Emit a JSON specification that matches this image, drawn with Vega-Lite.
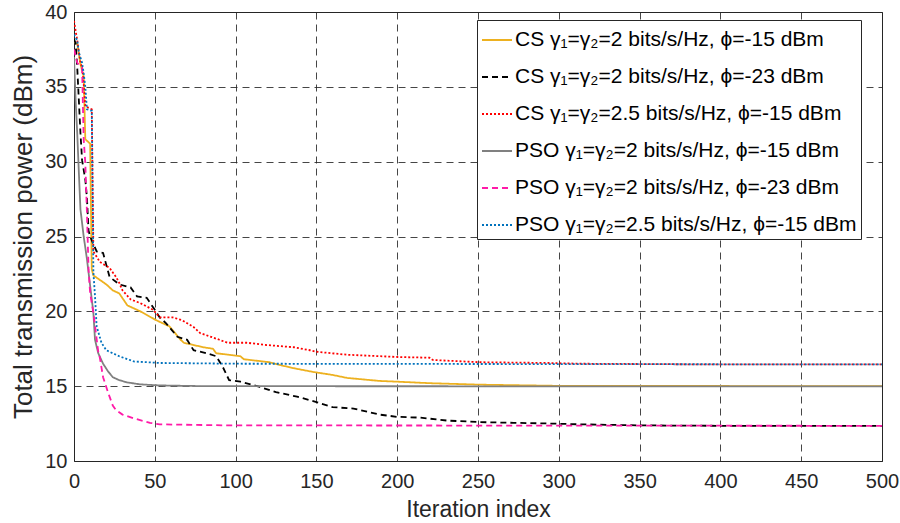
{
  "$schema": "https://vega.github.io/schema/vega-lite/v6.json",
  "width": 808,
  "height": 449,
  "autosize": {"type": "none"},
  "padding": {"left": 74, "top": 12, "right": 18, "bottom": 62},
  "background": "white",
  "config": {
    "font": "Liberation Sans",
    "view": {"stroke": "#262626", "strokeWidth": 1},
    "axis": {
      "labelFontSize": 20,
      "titleFontSize": 23,
      "titleFontWeight": "normal",
      "labelColor": "#262626",
      "titleColor": "#262626",
      "grid": true,
      "gridColor": "#262626",
      "gridDash": [7, 5],
      "gridOpacity": 0.85,
      "gridWidth": 1,
      "domain": false,
      "ticks": false,
      "labelFlush": false
    }
  },
  "datasets": {
    "pts": [
      {"s": "CS γ₁=γ₂=2 bits/s/Hz, ϕ=-15 dBm", "iter": 0, "val": 38.0},
      {"s": "CS γ₁=γ₂=2 bits/s/Hz, ϕ=-15 dBm", "iter": 2, "val": 37.9},
      {"s": "CS γ₁=γ₂=2 bits/s/Hz, ϕ=-15 dBm", "iter": 4, "val": 36.5},
      {"s": "CS γ₁=γ₂=2 bits/s/Hz, ϕ=-15 dBm", "iter": 6, "val": 35.7},
      {"s": "CS γ₁=γ₂=2 bits/s/Hz, ϕ=-15 dBm", "iter": 7, "val": 31.5},
      {"s": "CS γ₁=γ₂=2 bits/s/Hz, ϕ=-15 dBm", "iter": 10, "val": 31.2},
      {"s": "CS γ₁=γ₂=2 bits/s/Hz, ϕ=-15 dBm", "iter": 11, "val": 22.8},
      {"s": "CS γ₁=γ₂=2 bits/s/Hz, ϕ=-15 dBm", "iter": 12, "val": 22.4},
      {"s": "CS γ₁=γ₂=2 bits/s/Hz, ϕ=-15 dBm", "iter": 16, "val": 22.1},
      {"s": "CS γ₁=γ₂=2 bits/s/Hz, ϕ=-15 dBm", "iter": 20, "val": 21.8},
      {"s": "CS γ₁=γ₂=2 bits/s/Hz, ϕ=-15 dBm", "iter": 24, "val": 21.4},
      {"s": "CS γ₁=γ₂=2 bits/s/Hz, ϕ=-15 dBm", "iter": 28, "val": 21.2},
      {"s": "CS γ₁=γ₂=2 bits/s/Hz, ϕ=-15 dBm", "iter": 33, "val": 20.4},
      {"s": "CS γ₁=γ₂=2 bits/s/Hz, ϕ=-15 dBm", "iter": 41, "val": 20.0},
      {"s": "CS γ₁=γ₂=2 bits/s/Hz, ϕ=-15 dBm", "iter": 51, "val": 19.4},
      {"s": "CS γ₁=γ₂=2 bits/s/Hz, ϕ=-15 dBm", "iter": 59, "val": 19.0},
      {"s": "CS γ₁=γ₂=2 bits/s/Hz, ϕ=-15 dBm", "iter": 66, "val": 18.1},
      {"s": "CS γ₁=γ₂=2 bits/s/Hz, ϕ=-15 dBm", "iter": 68, "val": 17.9},
      {"s": "CS γ₁=γ₂=2 bits/s/Hz, ϕ=-15 dBm", "iter": 80, "val": 17.6},
      {"s": "CS γ₁=γ₂=2 bits/s/Hz, ϕ=-15 dBm", "iter": 86, "val": 17.5},
      {"s": "CS γ₁=γ₂=2 bits/s/Hz, ϕ=-15 dBm", "iter": 88, "val": 17.2},
      {"s": "CS γ₁=γ₂=2 bits/s/Hz, ϕ=-15 dBm", "iter": 103, "val": 17.0},
      {"s": "CS γ₁=γ₂=2 bits/s/Hz, ϕ=-15 dBm", "iter": 105, "val": 16.8},
      {"s": "CS γ₁=γ₂=2 bits/s/Hz, ϕ=-15 dBm", "iter": 121, "val": 16.6},
      {"s": "CS γ₁=γ₂=2 bits/s/Hz, ϕ=-15 dBm", "iter": 128, "val": 16.4},
      {"s": "CS γ₁=γ₂=2 bits/s/Hz, ϕ=-15 dBm", "iter": 136, "val": 16.2},
      {"s": "CS γ₁=γ₂=2 bits/s/Hz, ϕ=-15 dBm", "iter": 148, "val": 15.95},
      {"s": "CS γ₁=γ₂=2 bits/s/Hz, ϕ=-15 dBm", "iter": 160, "val": 15.75},
      {"s": "CS γ₁=γ₂=2 bits/s/Hz, ϕ=-15 dBm", "iter": 169, "val": 15.55},
      {"s": "CS γ₁=γ₂=2 bits/s/Hz, ϕ=-15 dBm", "iter": 189, "val": 15.35},
      {"s": "CS γ₁=γ₂=2 bits/s/Hz, ϕ=-15 dBm", "iter": 200, "val": 15.3},
      {"s": "CS γ₁=γ₂=2 bits/s/Hz, ϕ=-15 dBm", "iter": 220, "val": 15.2},
      {"s": "CS γ₁=γ₂=2 bits/s/Hz, ϕ=-15 dBm", "iter": 251, "val": 15.1},
      {"s": "CS γ₁=γ₂=2 bits/s/Hz, ϕ=-15 dBm", "iter": 300, "val": 15.02},
      {"s": "CS γ₁=γ₂=2 bits/s/Hz, ϕ=-15 dBm", "iter": 500, "val": 15.0},

      {"s": "CS γ₁=γ₂=2 bits/s/Hz, ϕ=-23 dBm", "iter": 0, "val": 38.2},
      {"s": "CS γ₁=γ₂=2 bits/s/Hz, ϕ=-23 dBm", "iter": 1, "val": 37.9},
      {"s": "CS γ₁=γ₂=2 bits/s/Hz, ϕ=-23 dBm", "iter": 2, "val": 36.3},
      {"s": "CS γ₁=γ₂=2 bits/s/Hz, ϕ=-23 dBm", "iter": 3, "val": 34.1},
      {"s": "CS γ₁=γ₂=2 bits/s/Hz, ϕ=-23 dBm", "iter": 4, "val": 31.9},
      {"s": "CS γ₁=γ₂=2 bits/s/Hz, ϕ=-23 dBm", "iter": 5, "val": 30.1},
      {"s": "CS γ₁=γ₂=2 bits/s/Hz, ϕ=-23 dBm", "iter": 7, "val": 28.8},
      {"s": "CS γ₁=γ₂=2 bits/s/Hz, ϕ=-23 dBm", "iter": 8, "val": 27.6},
      {"s": "CS γ₁=γ₂=2 bits/s/Hz, ϕ=-23 dBm", "iter": 9, "val": 25.4},
      {"s": "CS γ₁=γ₂=2 bits/s/Hz, ϕ=-23 dBm", "iter": 10, "val": 25.0},
      {"s": "CS γ₁=γ₂=2 bits/s/Hz, ϕ=-23 dBm", "iter": 14, "val": 24.0},
      {"s": "CS γ₁=γ₂=2 bits/s/Hz, ϕ=-23 dBm", "iter": 18, "val": 23.9},
      {"s": "CS γ₁=γ₂=2 bits/s/Hz, ϕ=-23 dBm", "iter": 22, "val": 22.3},
      {"s": "CS γ₁=γ₂=2 bits/s/Hz, ϕ=-23 dBm", "iter": 28, "val": 21.8},
      {"s": "CS γ₁=γ₂=2 bits/s/Hz, ϕ=-23 dBm", "iter": 35, "val": 21.6},
      {"s": "CS γ₁=γ₂=2 bits/s/Hz, ϕ=-23 dBm", "iter": 39, "val": 21.0},
      {"s": "CS γ₁=γ₂=2 bits/s/Hz, ϕ=-23 dBm", "iter": 45, "val": 20.9},
      {"s": "CS γ₁=γ₂=2 bits/s/Hz, ϕ=-23 dBm", "iter": 50, "val": 20.1},
      {"s": "CS γ₁=γ₂=2 bits/s/Hz, ϕ=-23 dBm", "iter": 53, "val": 19.6},
      {"s": "CS γ₁=γ₂=2 bits/s/Hz, ϕ=-23 dBm", "iter": 57, "val": 19.2},
      {"s": "CS γ₁=γ₂=2 bits/s/Hz, ϕ=-23 dBm", "iter": 64, "val": 18.3},
      {"s": "CS γ₁=γ₂=2 bits/s/Hz, ϕ=-23 dBm", "iter": 70, "val": 18.1},
      {"s": "CS γ₁=γ₂=2 bits/s/Hz, ϕ=-23 dBm", "iter": 74, "val": 17.4},
      {"s": "CS γ₁=γ₂=2 bits/s/Hz, ϕ=-23 dBm", "iter": 82, "val": 17.2},
      {"s": "CS γ₁=γ₂=2 bits/s/Hz, ϕ=-23 dBm", "iter": 88, "val": 17.0},
      {"s": "CS γ₁=γ₂=2 bits/s/Hz, ϕ=-23 dBm", "iter": 92, "val": 16.3},
      {"s": "CS γ₁=γ₂=2 bits/s/Hz, ϕ=-23 dBm", "iter": 96, "val": 15.4},
      {"s": "CS γ₁=γ₂=2 bits/s/Hz, ϕ=-23 dBm", "iter": 103, "val": 15.3},
      {"s": "CS γ₁=γ₂=2 bits/s/Hz, ϕ=-23 dBm", "iter": 115, "val": 14.95},
      {"s": "CS γ₁=γ₂=2 bits/s/Hz, ϕ=-23 dBm", "iter": 125, "val": 14.6},
      {"s": "CS γ₁=γ₂=2 bits/s/Hz, ϕ=-23 dBm", "iter": 138, "val": 14.3},
      {"s": "CS γ₁=γ₂=2 bits/s/Hz, ϕ=-23 dBm", "iter": 148, "val": 14.0},
      {"s": "CS γ₁=γ₂=2 bits/s/Hz, ϕ=-23 dBm", "iter": 160, "val": 13.6},
      {"s": "CS γ₁=γ₂=2 bits/s/Hz, ϕ=-23 dBm", "iter": 173, "val": 13.5},
      {"s": "CS γ₁=γ₂=2 bits/s/Hz, ϕ=-23 dBm", "iter": 189, "val": 13.1},
      {"s": "CS γ₁=γ₂=2 bits/s/Hz, ϕ=-23 dBm", "iter": 200, "val": 12.95},
      {"s": "CS γ₁=γ₂=2 bits/s/Hz, ϕ=-23 dBm", "iter": 214, "val": 12.9},
      {"s": "CS γ₁=γ₂=2 bits/s/Hz, ϕ=-23 dBm", "iter": 231, "val": 12.7},
      {"s": "CS γ₁=γ₂=2 bits/s/Hz, ϕ=-23 dBm", "iter": 251, "val": 12.6},
      {"s": "CS γ₁=γ₂=2 bits/s/Hz, ϕ=-23 dBm", "iter": 272, "val": 12.55},
      {"s": "CS γ₁=γ₂=2 bits/s/Hz, ϕ=-23 dBm", "iter": 296, "val": 12.5},
      {"s": "CS γ₁=γ₂=2 bits/s/Hz, ϕ=-23 dBm", "iter": 313, "val": 12.45},
      {"s": "CS γ₁=γ₂=2 bits/s/Hz, ϕ=-23 dBm", "iter": 350, "val": 12.38},
      {"s": "CS γ₁=γ₂=2 bits/s/Hz, ϕ=-23 dBm", "iter": 400, "val": 12.35},
      {"s": "CS γ₁=γ₂=2 bits/s/Hz, ϕ=-23 dBm", "iter": 500, "val": 12.35},

      {"s": "CS γ₁=γ₂=2.5 bits/s/Hz, ϕ=-15 dBm", "iter": 0, "val": 39.4},
      {"s": "CS γ₁=γ₂=2.5 bits/s/Hz, ϕ=-15 dBm", "iter": 2, "val": 38.1},
      {"s": "CS γ₁=γ₂=2.5 bits/s/Hz, ϕ=-15 dBm", "iter": 4, "val": 36.6},
      {"s": "CS γ₁=γ₂=2.5 bits/s/Hz, ϕ=-15 dBm", "iter": 5, "val": 36.3},
      {"s": "CS γ₁=γ₂=2.5 bits/s/Hz, ϕ=-15 dBm", "iter": 6, "val": 35.2},
      {"s": "CS γ₁=γ₂=2.5 bits/s/Hz, ϕ=-15 dBm", "iter": 7, "val": 33.7},
      {"s": "CS γ₁=γ₂=2.5 bits/s/Hz, ϕ=-15 dBm", "iter": 11, "val": 33.5},
      {"s": "CS γ₁=γ₂=2.5 bits/s/Hz, ϕ=-15 dBm", "iter": 12, "val": 24.0},
      {"s": "CS γ₁=γ₂=2.5 bits/s/Hz, ϕ=-15 dBm", "iter": 16, "val": 23.3},
      {"s": "CS γ₁=γ₂=2.5 bits/s/Hz, ϕ=-15 dBm", "iter": 22, "val": 22.9},
      {"s": "CS γ₁=γ₂=2.5 bits/s/Hz, ϕ=-15 dBm", "iter": 26, "val": 22.3},
      {"s": "CS γ₁=γ₂=2.5 bits/s/Hz, ϕ=-15 dBm", "iter": 28, "val": 21.9},
      {"s": "CS γ₁=γ₂=2.5 bits/s/Hz, ϕ=-15 dBm", "iter": 30, "val": 21.4},
      {"s": "CS γ₁=γ₂=2.5 bits/s/Hz, ϕ=-15 dBm", "iter": 35, "val": 20.8},
      {"s": "CS γ₁=γ₂=2.5 bits/s/Hz, ϕ=-15 dBm", "iter": 41, "val": 20.55},
      {"s": "CS γ₁=γ₂=2.5 bits/s/Hz, ϕ=-15 dBm", "iter": 49, "val": 20.1},
      {"s": "CS γ₁=γ₂=2.5 bits/s/Hz, ϕ=-15 dBm", "iter": 53, "val": 19.6},
      {"s": "CS γ₁=γ₂=2.5 bits/s/Hz, ϕ=-15 dBm", "iter": 61, "val": 19.6},
      {"s": "CS γ₁=γ₂=2.5 bits/s/Hz, ϕ=-15 dBm", "iter": 67, "val": 19.4},
      {"s": "CS γ₁=γ₂=2.5 bits/s/Hz, ϕ=-15 dBm", "iter": 74, "val": 18.95},
      {"s": "CS γ₁=γ₂=2.5 bits/s/Hz, ϕ=-15 dBm", "iter": 78, "val": 18.55},
      {"s": "CS γ₁=γ₂=2.5 bits/s/Hz, ϕ=-15 dBm", "iter": 90, "val": 18.1},
      {"s": "CS γ₁=γ₂=2.5 bits/s/Hz, ϕ=-15 dBm", "iter": 95, "val": 17.9},
      {"s": "CS γ₁=γ₂=2.5 bits/s/Hz, ϕ=-15 dBm", "iter": 107, "val": 17.9},
      {"s": "CS γ₁=γ₂=2.5 bits/s/Hz, ϕ=-15 dBm", "iter": 119, "val": 17.75},
      {"s": "CS γ₁=γ₂=2.5 bits/s/Hz, ϕ=-15 dBm", "iter": 136, "val": 17.6},
      {"s": "CS γ₁=γ₂=2.5 bits/s/Hz, ϕ=-15 dBm", "iter": 146, "val": 17.4},
      {"s": "CS γ₁=γ₂=2.5 bits/s/Hz, ϕ=-15 dBm", "iter": 150, "val": 17.3},
      {"s": "CS γ₁=γ₂=2.5 bits/s/Hz, ϕ=-15 dBm", "iter": 169, "val": 17.1},
      {"s": "CS γ₁=γ₂=2.5 bits/s/Hz, ϕ=-15 dBm", "iter": 200, "val": 16.95},
      {"s": "CS γ₁=γ₂=2.5 bits/s/Hz, ϕ=-15 dBm", "iter": 220, "val": 16.9},
      {"s": "CS γ₁=γ₂=2.5 bits/s/Hz, ϕ=-15 dBm", "iter": 222, "val": 16.75},
      {"s": "CS γ₁=γ₂=2.5 bits/s/Hz, ϕ=-15 dBm", "iter": 251, "val": 16.6},
      {"s": "CS γ₁=γ₂=2.5 bits/s/Hz, ϕ=-15 dBm", "iter": 293, "val": 16.55},
      {"s": "CS γ₁=γ₂=2.5 bits/s/Hz, ϕ=-15 dBm", "iter": 313, "val": 16.5},
      {"s": "CS γ₁=γ₂=2.5 bits/s/Hz, ϕ=-15 dBm", "iter": 400, "val": 16.45},
      {"s": "CS γ₁=γ₂=2.5 bits/s/Hz, ϕ=-15 dBm", "iter": 500, "val": 16.45},

      {"s": "PSO γ₁=γ₂=2 bits/s/Hz, ϕ=-15 dBm", "iter": 0, "val": 37.0},
      {"s": "PSO γ₁=γ₂=2 bits/s/Hz, ϕ=-15 dBm", "iter": 1, "val": 34.1},
      {"s": "PSO γ₁=γ₂=2 bits/s/Hz, ϕ=-15 dBm", "iter": 2, "val": 31.9},
      {"s": "PSO γ₁=γ₂=2 bits/s/Hz, ϕ=-15 dBm", "iter": 3, "val": 29.3},
      {"s": "PSO γ₁=γ₂=2 bits/s/Hz, ϕ=-15 dBm", "iter": 4, "val": 26.8},
      {"s": "PSO γ₁=γ₂=2 bits/s/Hz, ϕ=-15 dBm", "iter": 6, "val": 25.0},
      {"s": "PSO γ₁=γ₂=2 bits/s/Hz, ϕ=-15 dBm", "iter": 8, "val": 23.5},
      {"s": "PSO γ₁=γ₂=2 bits/s/Hz, ϕ=-15 dBm", "iter": 9, "val": 22.6},
      {"s": "PSO γ₁=γ₂=2 bits/s/Hz, ϕ=-15 dBm", "iter": 12, "val": 19.9},
      {"s": "PSO γ₁=γ₂=2 bits/s/Hz, ϕ=-15 dBm", "iter": 13, "val": 18.1},
      {"s": "PSO γ₁=γ₂=2 bits/s/Hz, ϕ=-15 dBm", "iter": 15, "val": 17.2},
      {"s": "PSO γ₁=γ₂=2 bits/s/Hz, ϕ=-15 dBm", "iter": 18, "val": 16.5},
      {"s": "PSO γ₁=γ₂=2 bits/s/Hz, ϕ=-15 dBm", "iter": 21, "val": 16.0},
      {"s": "PSO γ₁=γ₂=2 bits/s/Hz, ϕ=-15 dBm", "iter": 24, "val": 15.6},
      {"s": "PSO γ₁=γ₂=2 bits/s/Hz, ϕ=-15 dBm", "iter": 28, "val": 15.4},
      {"s": "PSO γ₁=γ₂=2 bits/s/Hz, ϕ=-15 dBm", "iter": 33, "val": 15.25},
      {"s": "PSO γ₁=γ₂=2 bits/s/Hz, ϕ=-15 dBm", "iter": 41, "val": 15.12},
      {"s": "PSO γ₁=γ₂=2 bits/s/Hz, ϕ=-15 dBm", "iter": 53, "val": 15.05},
      {"s": "PSO γ₁=γ₂=2 bits/s/Hz, ϕ=-15 dBm", "iter": 80, "val": 15.0},
      {"s": "PSO γ₁=γ₂=2 bits/s/Hz, ϕ=-15 dBm", "iter": 500, "val": 14.98},

      {"s": "PSO γ₁=γ₂=2 bits/s/Hz, ϕ=-23 dBm", "iter": 0, "val": 37.5},
      {"s": "PSO γ₁=γ₂=2 bits/s/Hz, ϕ=-23 dBm", "iter": 2, "val": 36.6},
      {"s": "PSO γ₁=γ₂=2 bits/s/Hz, ϕ=-23 dBm", "iter": 5, "val": 36.3},
      {"s": "PSO γ₁=γ₂=2 bits/s/Hz, ϕ=-23 dBm", "iter": 6, "val": 31.5},
      {"s": "PSO γ₁=γ₂=2 bits/s/Hz, ϕ=-23 dBm", "iter": 7, "val": 29.9},
      {"s": "PSO γ₁=γ₂=2 bits/s/Hz, ϕ=-23 dBm", "iter": 8, "val": 26.6},
      {"s": "PSO γ₁=γ₂=2 bits/s/Hz, ϕ=-23 dBm", "iter": 9, "val": 22.8},
      {"s": "PSO γ₁=γ₂=2 bits/s/Hz, ϕ=-23 dBm", "iter": 10, "val": 21.2},
      {"s": "PSO γ₁=γ₂=2 bits/s/Hz, ϕ=-23 dBm", "iter": 12, "val": 19.9},
      {"s": "PSO γ₁=γ₂=2 bits/s/Hz, ϕ=-23 dBm", "iter": 15, "val": 17.3},
      {"s": "PSO γ₁=γ₂=2 bits/s/Hz, ϕ=-23 dBm", "iter": 16, "val": 16.9},
      {"s": "PSO γ₁=γ₂=2 bits/s/Hz, ϕ=-23 dBm", "iter": 18, "val": 15.6},
      {"s": "PSO γ₁=γ₂=2 bits/s/Hz, ϕ=-23 dBm", "iter": 21, "val": 14.6},
      {"s": "PSO γ₁=γ₂=2 bits/s/Hz, ϕ=-23 dBm", "iter": 22, "val": 14.3},
      {"s": "PSO γ₁=γ₂=2 bits/s/Hz, ϕ=-23 dBm", "iter": 24, "val": 13.7},
      {"s": "PSO γ₁=γ₂=2 bits/s/Hz, ϕ=-23 dBm", "iter": 26, "val": 13.4},
      {"s": "PSO γ₁=γ₂=2 bits/s/Hz, ϕ=-23 dBm", "iter": 30, "val": 13.1},
      {"s": "PSO γ₁=γ₂=2 bits/s/Hz, ϕ=-23 dBm", "iter": 37, "val": 12.85},
      {"s": "PSO γ₁=γ₂=2 bits/s/Hz, ϕ=-23 dBm", "iter": 47, "val": 12.55},
      {"s": "PSO γ₁=γ₂=2 bits/s/Hz, ϕ=-23 dBm", "iter": 53, "val": 12.45},
      {"s": "PSO γ₁=γ₂=2 bits/s/Hz, ϕ=-23 dBm", "iter": 95, "val": 12.38},
      {"s": "PSO γ₁=γ₂=2 bits/s/Hz, ϕ=-23 dBm", "iter": 500, "val": 12.35},

      {"s": "PSO γ₁=γ₂=2.5 bits/s/Hz, ϕ=-15 dBm", "iter": 0, "val": 38.5},
      {"s": "PSO γ₁=γ₂=2.5 bits/s/Hz, ϕ=-15 dBm", "iter": 2, "val": 38.1},
      {"s": "PSO γ₁=γ₂=2.5 bits/s/Hz, ϕ=-15 dBm", "iter": 3, "val": 37.3},
      {"s": "PSO γ₁=γ₂=2.5 bits/s/Hz, ϕ=-15 dBm", "iter": 5, "val": 36.6},
      {"s": "PSO γ₁=γ₂=2.5 bits/s/Hz, ϕ=-15 dBm", "iter": 6, "val": 35.9},
      {"s": "PSO γ₁=γ₂=2.5 bits/s/Hz, ϕ=-15 dBm", "iter": 7, "val": 35.0},
      {"s": "PSO γ₁=γ₂=2.5 bits/s/Hz, ϕ=-15 dBm", "iter": 8, "val": 33.5},
      {"s": "PSO γ₁=γ₂=2.5 bits/s/Hz, ϕ=-15 dBm", "iter": 11, "val": 33.4},
      {"s": "PSO γ₁=γ₂=2.5 bits/s/Hz, ϕ=-15 dBm", "iter": 12, "val": 22.6},
      {"s": "PSO γ₁=γ₂=2.5 bits/s/Hz, ϕ=-15 dBm", "iter": 13, "val": 21.0},
      {"s": "PSO γ₁=γ₂=2.5 bits/s/Hz, ϕ=-15 dBm", "iter": 14, "val": 19.0},
      {"s": "PSO γ₁=γ₂=2.5 bits/s/Hz, ϕ=-15 dBm", "iter": 17, "val": 17.9},
      {"s": "PSO γ₁=γ₂=2.5 bits/s/Hz, ϕ=-15 dBm", "iter": 20, "val": 17.4},
      {"s": "PSO γ₁=γ₂=2.5 bits/s/Hz, ϕ=-15 dBm", "iter": 28, "val": 17.0},
      {"s": "PSO γ₁=γ₂=2.5 bits/s/Hz, ϕ=-15 dBm", "iter": 37, "val": 16.65},
      {"s": "PSO γ₁=γ₂=2.5 bits/s/Hz, ϕ=-15 dBm", "iter": 53, "val": 16.55},
      {"s": "PSO γ₁=γ₂=2.5 bits/s/Hz, ϕ=-15 dBm", "iter": 100, "val": 16.5},
      {"s": "PSO γ₁=γ₂=2.5 bits/s/Hz, ϕ=-15 dBm", "iter": 500, "val": 16.45}
    ]
  },
  "data": {"name": "pts"},
  "mark": {"type": "line", "strokeWidth": 1.8, "clip": true},
  "encoding": {
    "x": {
      "field": "iter",
      "type": "quantitative",
      "scale": {"domain": [0, 500], "nice": false, "zero": false},
      "axis": {
        "values": [0, 50, 100, 150, 200, 250, 300, 350, 400, 450, 500],
        "title": "Iteration index",
        "labelPadding": 10,
        "titlePadding": 7
      }
    },
    "y": {
      "field": "val",
      "type": "quantitative",
      "scale": {"domain": [10, 40], "nice": false, "zero": false},
      "axis": {
        "values": [10, 15, 20, 25, 30, 35, 40],
        "title": "Total transmission power (dBm)",
        "titleFontSize": 26,
        "labelPadding": 7,
        "titlePadding": 8
      }
    },
    "color": {
      "field": "s",
      "type": "nominal",
      "scale": {
        "domain": [
          "CS γ₁=γ₂=2 bits/s/Hz, ϕ=-15 dBm",
          "CS γ₁=γ₂=2 bits/s/Hz, ϕ=-23 dBm",
          "CS γ₁=γ₂=2.5 bits/s/Hz, ϕ=-15 dBm",
          "PSO γ₁=γ₂=2 bits/s/Hz, ϕ=-15 dBm",
          "PSO γ₁=γ₂=2 bits/s/Hz, ϕ=-23 dBm",
          "PSO γ₁=γ₂=2.5 bits/s/Hz, ϕ=-15 dBm"
        ],
        "range": ["#EDB120", "#000000", "#FF0000", "#808080", "#FF1AA8", "#0072BD"]
      },
      "legend": {
        "title": null,
        "orient": "none",
        "legendX": 403,
        "legendY": 8,
        "symbolType": "stroke",
        "symbolSize": 900,
        "symbolStrokeWidth": 2,
        "labelFontSize": 21,
        "labelColor": "#000000",
        "labelOffset": 2,
        "rowPadding": 11,
        "padding": 4,
        "strokeColor": "#262626",
        "fillColor": "white",
        "labelLimit": 500
      }
    },
    "strokeDash": {
      "field": "s",
      "type": "nominal",
      "scale": {
        "domain": [
          "CS γ₁=γ₂=2 bits/s/Hz, ϕ=-15 dBm",
          "CS γ₁=γ₂=2 bits/s/Hz, ϕ=-23 dBm",
          "CS γ₁=γ₂=2.5 bits/s/Hz, ϕ=-15 dBm",
          "PSO γ₁=γ₂=2 bits/s/Hz, ϕ=-15 dBm",
          "PSO γ₁=γ₂=2 bits/s/Hz, ϕ=-23 dBm",
          "PSO γ₁=γ₂=2.5 bits/s/Hz, ϕ=-15 dBm"
        ],
        "range": [[1, 0], [6, 4], [2, 2], [1, 0], [6, 4], [2, 2]]
      },
      "legend": {
        "title": null,
        "orient": "none",
        "legendX": 403,
        "legendY": 8,
        "symbolType": "stroke",
        "symbolSize": 900,
        "symbolStrokeWidth": 2,
        "labelFontSize": 21,
        "labelColor": "#000000",
        "labelOffset": 2,
        "rowPadding": 11,
        "padding": 4,
        "strokeColor": "#262626",
        "fillColor": "white",
        "labelLimit": 500
      }
    }
  }
}
